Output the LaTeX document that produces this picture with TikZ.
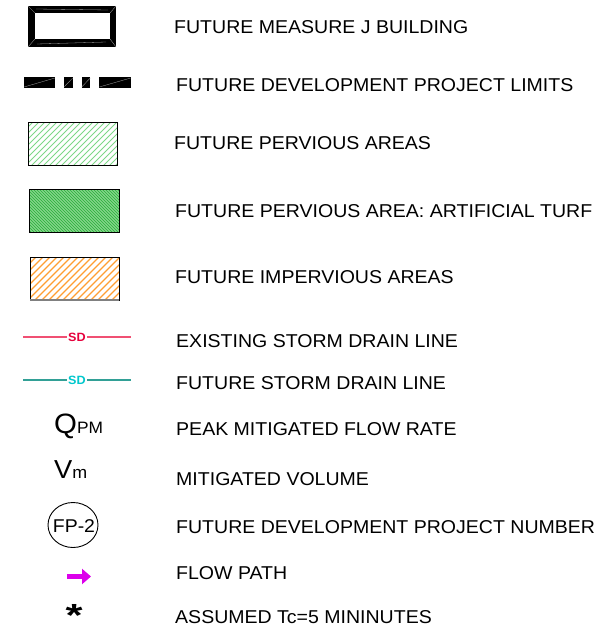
\documentclass[tikz,border=0pt]{standalone}
\usepackage{fontspec}
\setmainfont{Liberation Sans}[FakeStretch=1.05]
\usetikzlibrary{arrows.meta}
\definecolor{pervgreen}{RGB}{125,215,135}
\definecolor{turfgreen}{RGB}{55,180,70}
\definecolor{turfback}{RGB}{190,238,190}
\definecolor{impervorange}{RGB}{255,158,50}
\definecolor{sdred}{RGB}{240,80,115}
\definecolor{sdredtext}{RGB}{230,0,60}
\definecolor{sdteal}{RGB}{50,160,150}
\definecolor{sdtealtext}{RGB}{0,200,205}
\definecolor{flowmag}{RGB}{220,0,235}
\begin{document}
\begin{tikzpicture}[x=1pt,y=-1pt,
  lbl/.style={anchor=base west, inner sep=0pt, font=\fontsize{18.6}{20}\selectfont},
  swatch/.style={draw=black, line width=0.9pt},
  sdtag/.style={fill=white, inner sep=1pt, font=\bfseries\fontsize{12}{12}\selectfont},
  mitre/.style={draw=gray!70, line width=0.3pt}]
\useasboundingbox (0,0) rectangle (611,634);

% future building outline
\fill[black] (28,6) rectangle (116,47);
\fill[white] (35,13) rectangle (110,39);
\draw[mitre] (28,6) -- (35,13) (116,6) -- (110,13) (28,47) -- (35,39) (116,47) -- (110,39);
\draw[mitre] (36,9) -- (108,10) (37,44) -- (106,42);
\node[lbl] (t1) at (174,34) {FUTURE MEASURE J BUILDING};

% project limits line
\foreach \xa/\xb in {24/55, 64/72.7, 81.7/90.3, 99.3/130.7} {
  \fill[black] (\xa,76.7) rectangle (\xb,87.7);
  \draw[mitre] (\xa,87) -- (\xb,78);
}
\node[lbl] (t2) at (176,92) {FUTURE DEVELOPMENT PROJECT LIMITS};

% pervious areas
\begin{scope}
  \clip (28,122) rectangle (117,165);
  \foreach \k in {0,6,...,140} {
    \draw[pervgreen, line width=1pt] (28+\k-45,166) -- (28+\k,121);
  }
\end{scope}
\draw[swatch] (28,122) rectangle (117,165);
\node[lbl] (t3) at (174,149) {FUTURE PERVIOUS AREAS};

% artificial turf
\begin{scope}
  \clip (29,189) rectangle (119,232);
  \fill[turfback] (29,189) rectangle (119,232);
  \foreach \k in {0,3,...,140} {
    \draw[turfgreen, line width=1.1pt] (29+\k-45,188) -- (29+\k,233);
  }
\end{scope}
\draw[swatch] (29,189) rectangle (119,232);
\node[lbl] (t4) at (175,217) {FUTURE PERVIOUS AREA: ARTIFICIAL TURF};

% impervious areas
\begin{scope}
  \clip (30,257) rectangle (119,300);
  \foreach \k in {0,7,...,140} {
    \draw[impervorange, line width=1.3pt] (30+\k-45,301) -- (30+\k,256);
  }
\end{scope}
\draw[swatch] (30,257) rectangle (119,300);
\draw[gray, line width=1.2pt] (30,300) -- (119,300);
\node[lbl] (t5) at (175,283) {FUTURE IMPERVIOUS AREAS};

% existing storm drain
\coordinate (ea) at (23,337);
\coordinate (eb) at (131,337);
\draw[sdred, line width=1.1pt] (ea) -- (eb);
\node[sdtag, text=sdredtext] (esd) at (77,337) {SD};
\node[lbl] (t6) at (176,347) {EXISTING STORM DRAIN LINE};

% future storm drain
\coordinate (fa) at (23,380);
\coordinate (fb) at (131,380);
\draw[sdteal, line width=1.1pt] (fa) -- (fb);
\node[sdtag, text=sdtealtext] (fsd) at (77,380) {SD};
\node[lbl] (t7) at (176,389) {FUTURE STORM DRAIN LINE};

% peak mitigated flow rate
\node[anchor=base west, inner sep=0pt] (q) at (54,433)
  {{\fontsize{28}{28}\selectfont Q}{\fontsize{16.5}{16.5}\selectfont PM}};
\node[lbl] (t8) at (176,435) {PEAK MITIGATED FLOW RATE};

% mitigated volume
\node[anchor=base west, inner sep=0pt] (v) at (54,478)
  {{\fontsize{26}{26}\selectfont V}{\fontsize{17}{17}\selectfont m}};
\node[lbl] (t9) at (176,485) {MITIGATED VOLUME};

% project number tag
\coordinate (fpc) at (73,525);
\draw[black, line width=0.9pt] (fpc) ellipse [x radius=25, y radius=22.5];
\node[inner sep=0pt, font=\fontsize{18.5}{18.5}\selectfont] (fp) at (74,526) {FP-2};
\node[lbl] (t10) at (176,533) {FUTURE DEVELOPMENT PROJECT NUMBER};

% flow path arrow
\coordinate (aa) at (67,576.5);
\coordinate (ab) at (91,576.5);
\draw[flowmag, line width=5pt, -{Triangle[length=9pt, width=15pt]}] (aa) -- (ab);
\node[lbl] (t11) at (176,579) {FLOW PATH};

% assumed time of concentration
\node[anchor=base, inner sep=0pt, font=\bfseries\fontsize{32}{32}\selectfont] (ast) at (74,626) {\scalebox{1.3}[1]{*}};
\node[lbl] (t12) at (175,623) {ASSUMED Tc=5 MININUTES};
\end{tikzpicture}
\end{document}
